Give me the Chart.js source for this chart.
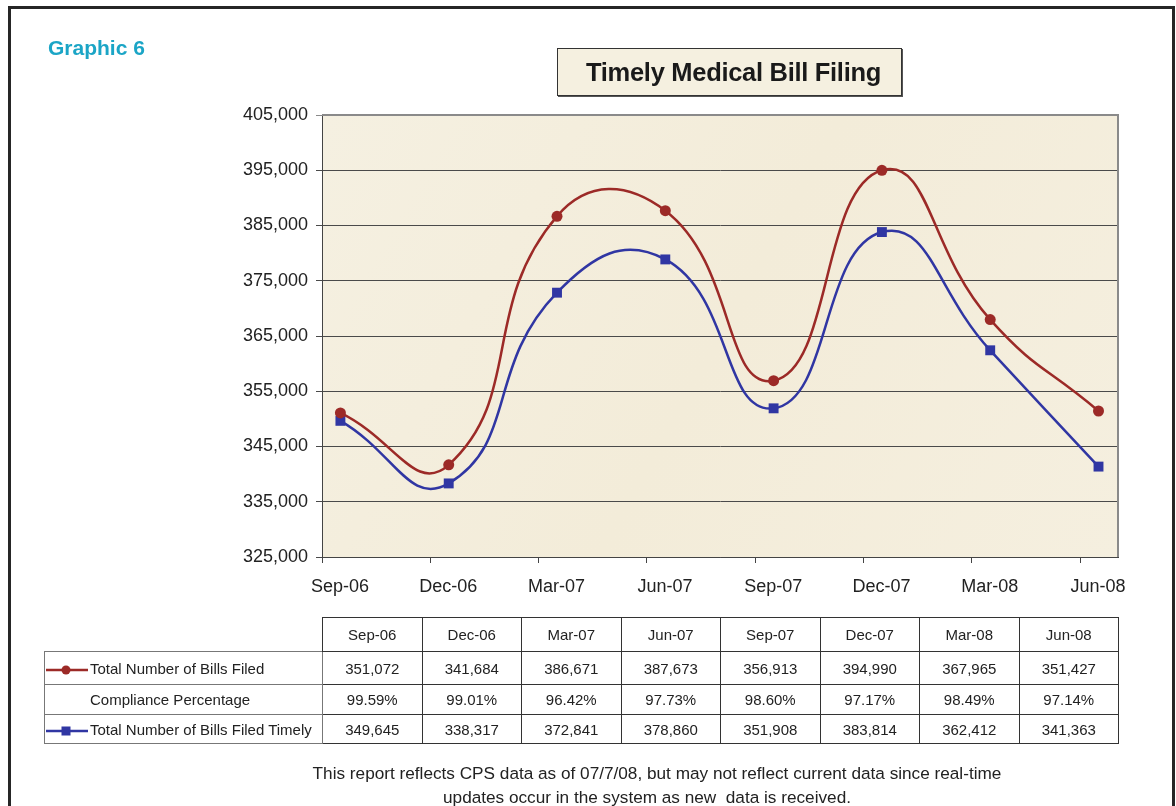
<!DOCTYPE html>
<html>
<head>
<meta charset="utf-8">
<script src="https://cdn.jsdelivr.net/npm/chart.js@4"></script>
<style>
  body { margin: 0; background: #fff; font-family: "Liberation Sans", Arial, sans-serif; color: #222; }
  #page { position: relative; width: 1176px; height: 806px; overflow: hidden; }
  #frame { position: absolute; left: 8px; top: 6px; width: 1161px; height: 900px; border: 3px solid #262626; }
  #graphic { position: absolute; left: 48px; top: 36px; font-size: 21px; font-weight: bold; color: #1ba5c6; }
  #chartBox { position: absolute; left: 0; top: 0; width: 1176px; height: 610px; }
  #title { position: absolute; left: 557px; top: 48px; width: 335px; height: 46px; padding-left: 8px; background: #f5f0e0;
    border: 1px solid #333; box-shadow: 1px 1px 0 #555; font-size: 25.5px; font-weight: bold;
    line-height: 47px; text-align: center; color: #1a1a1a; letter-spacing: -0.3px; }
  #tabela { position: absolute; left: 44px; top: 617px; border-collapse: collapse; table-layout: fixed;
    width: 1074px; font-size: 15px; }
  #tabela td { border: 1px solid #333; text-align: center; padding: 0; overflow: hidden; }
  #tabela td.rotulo { border-color: #777; text-align: left; white-space: nowrap; }
  #tabela td.vazio { border: none; border-right: 1px solid #333; }
  #tabela svg { vertical-align: middle; margin-right: 1px; }
  #rodape { position: absolute; left: 282px; top: 761px; width: 750px; text-align: center; font-size: 17.2px; line-height: 24px; color: #222; }
  #rodape span { position: relative; left: -10px; }
</style>
</head>
<body>
<div id="page">
  <div id="chartBox"><canvas id="grafico"></canvas></div>
  <div id="frame"></div>
  <div id="graphic">Graphic 6</div>
  <div id="title">Timely Medical Bill Filing</div>
  <table id="tabela"></table>
  <div id="rodape">This report reflects CPS data as of 07/7/08, but may not reflect current data since real-time<br><span>updates occur in the system as new&nbsp; data is received.</span></div>
</div>
<script>
  const meses = ["Sep-06", "Dec-06", "Mar-07", "Jun-07", "Sep-07", "Dec-07", "Mar-08", "Jun-08"];
  const totalFiled = [351072, 341684, 386671, 387673, 356913, 394990, 367965, 351427];
  const compliance = [99.59, 99.01, 96.42, 97.73, 98.60, 97.17, 98.49, 97.14];
  const totalTimely = [349645, 338317, 372841, 378860, 351908, 383814, 362412, 341363];
  const yMin = 325000;
  const yMax = 405000;
  const yStep = 10000;

  const vermelho = "#9c2a27";
  const azul = "#3036a3";
  const fonte = "'Liberation Sans', Arial, sans-serif";

  // Table under the chart
  const fmt = (v) => v.toLocaleString("en-US");
  const tabela = document.getElementById("tabela");

  function legendaSvg(cor, forma) {
    const marca = forma === "circle"
      ? `<circle cx="21" cy="6" r="4.5" fill="${cor}"/>`
      : `<rect x="16.5" y="1.5" width="9" height="9" fill="${cor}"/>`;
    return `<svg width="44" height="12"><line x1="1" y1="6" x2="43" y2="6" stroke="${cor}" stroke-width="2.5"/>${marca}</svg>`;
  }

  let html = `<colgroup><col style="width:278px">`;
  meses.forEach(() => { html += `<col style="width:99.5px">`; });
  html += `</colgroup>`;
  html += `<tr style="height:34px"><td class="vazio"></td>`;
  meses.forEach((m) => { html += `<td>${m}</td>`; });
  html += `</tr>`;
  html += `<tr style="height:33px"><td class="rotulo">${legendaSvg(vermelho, "circle")}Total Number of Bills Filed</td>`;
  totalFiled.forEach((v) => { html += `<td>${fmt(v)}</td>`; });
  html += `</tr>`;
  html += `<tr style="height:30px"><td class="rotulo"><span style="display:inline-block;width:45px"></span>Compliance Percentage</td>`;
  compliance.forEach((v) => { html += `<td>${v.toFixed(2)}%</td>`; });
  html += `</tr>`;
  html += `<tr style="height:29px"><td class="rotulo">${legendaSvg(azul, "rect")}Total Number of Bills Filed Timely</td>`;
  totalTimely.forEach((v) => { html += `<td>${fmt(v)}</td>`; });
  html += `</tr>`;
  tabela.innerHTML = html;

  // Chart
  const offsetTick = 0.17;

  const fundoPlugin = {
    id: "fundoPlugin",
    beforeDraw(chart) {
      const { ctx, chartArea: a } = chart;
      ctx.save();
      const g = ctx.createLinearGradient(a.left, a.top, a.right, a.bottom);
      g.addColorStop(0, "#f5f0e1");
      g.addColorStop(0.5, "#f3ecd9");
      g.addColorStop(1, "#f5efdf");
      ctx.fillStyle = g;
      ctx.fillRect(a.left, a.top, a.right - a.left, a.bottom - a.top);
      ctx.restore();
    },
    afterDatasetsDraw(chart) {
      const { ctx, chartArea: a } = chart;
      ctx.save();
      ctx.strokeStyle = "#8a8a8a";
      ctx.lineWidth = 2;
      ctx.beginPath();
      ctx.moveTo(a.left, a.top);
      ctx.lineTo(a.right, a.top);
      ctx.lineTo(a.right, a.bottom);
      ctx.stroke();
      ctx.restore();
    },
  };

  const ctx = document.getElementById("grafico").getContext("2d");
  new Chart(ctx, {
    type: "line",
    data: {
      datasets: [
        {
          label: "Total Number of Bills Filed",
          data: totalFiled.map((v, i) => ({ x: i, y: v })),
          borderColor: vermelho,
          backgroundColor: vermelho,
          borderWidth: 2.5,
          pointStyle: "circle",
          pointRadius: 5.5,
          pointBorderWidth: 0,
          tension: 0.5,
          fill: false,
        },
        {
          label: "Total Number of Bills Filed Timely",
          data: totalTimely.map((v, i) => ({ x: i, y: v })),
          borderColor: azul,
          backgroundColor: azul,
          borderWidth: 2.5,
          pointStyle: "rect",
          pointRadius: 7,
          pointBorderWidth: 0,
          tension: 0.5,
          fill: false,
        },
      ],
    },
    options: {
      responsive: true,
      maintainAspectRatio: false,
      animation: false,
      layout: { padding: { left: 222, right: 58, top: 115, bottom: 13 } },
      plugins: { legend: { display: false }, tooltip: { enabled: false } },
      scales: {
        x: {
          type: "linear",
          min: -offsetTick,
          max: meses.length - 1 + 0.18,
          afterBuildTicks: (scale) => {
            scale.ticks = meses.map((m, i) => ({ value: i - offsetTick }));
          },
          afterFit: (scale) => { scale.height = 40; },
          ticks: {
            autoSkip: false,
            maxRotation: 0,
            labelOffset: 18,
            padding: 13,
            color: "#222",
            font: { family: fonte, size: 18 },
            callback: (v, i) => meses[i],
          },
          grid: { drawOnChartArea: false, drawTicks: true, tickLength: 6, color: "#444" },
          border: { color: "#444", width: 1 },
        },
        y: {
          min: yMin,
          max: yMax,
          afterFit: (scale) => { scale.width = 100; },
          ticks: {
            stepSize: yStep,
            padding: 8,
            color: "#222",
            font: { family: fonte, size: 18 },
            callback: (v) => v.toLocaleString("en-US"),
          },
          grid: {
            color: (c) => (c.tick && c.tick.value === yMax ? "#8a8a8a" : "#4a4a4a"),
            lineWidth: 1,
            tickLength: 6,
          },
          border: { color: "#444", width: 1 },
        },
      },
    },
    plugins: [fundoPlugin],
  });
</script>
</body>
</html>
